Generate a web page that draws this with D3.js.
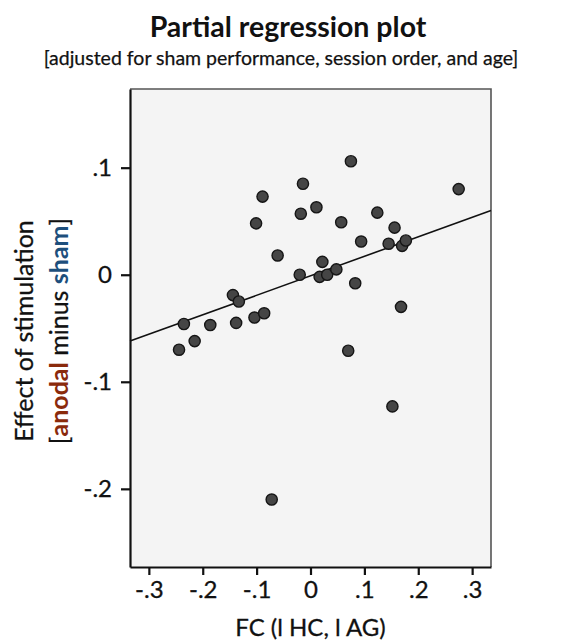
<!DOCTYPE html>
<html>
<head>
<meta charset="utf-8">
<script src="https://cdn.jsdelivr.net/npm/d3@7"></script>
<style>
  body { margin: 0; background: #fff; }
  text { font-family: Lato, "Open Sans", sans-serif; fill: #111; }
</style>
</head>
<body>
<div id="chart"></div>
<script>
// partial residuals
var fcValues = [-0.014, -0.089, -0.018, -0.101, -0.061, -0.020, -0.144, -0.133, -0.235, -0.186,
                -0.138, -0.104, -0.086, -0.215, -0.244, 0.075, 0.275, 0.011, 0.124, 0.057,
                0.156, 0.094, 0.145, 0.170, 0.177, 0.022, 0.017, 0.031, 0.048, 0.083,
                0.168, 0.070, 0.152, -0.072];
var effectValues = [0.085, 0.073, 0.057, 0.048, 0.018, 0.000, -0.019, -0.025, -0.046, -0.047,
                    -0.045, -0.040, -0.036, -0.062, -0.070, 0.106, 0.080, 0.063, 0.058, 0.049,
                    0.044, 0.031, 0.029, 0.027, 0.032, 0.012, -0.002, 0.000, 0.005, -0.008,
                    -0.030, -0.071, -0.123, -0.210];

// fitted line end points
var fitX = [-0.335, 0.335];
var fitY = [-0.062, 0.060];

var xTicks = [-0.3, -0.2, -0.1, 0, 0.1, 0.2, 0.3];
var xTickLabels = ["-.3", "-.2", "-.1", "0", ".1", ".2", ".3"];
var yTicks = [0.1, 0, -0.1, -0.2];
var yTickLabels = [".1", "0", "-.1", "-.2"];

var totalWidth = 562, totalHeight = 642;
var margin = {left: 130, right: 71, top: 89, bottom: 75};
var width = totalWidth - margin.left - margin.right;
var height = totalHeight - margin.top - margin.bottom;

var svg = d3.select("#chart").append("svg")
  .attr("width", totalWidth)
  .attr("height", totalHeight);

var xScale = d3.scaleLinear().domain([-0.335, 0.335]).range([0, width]);
var yScale = d3.scaleLinear().domain([-0.273, 0.1735]).range([height, 0]);

var g = svg.append("g")
  .attr("transform", "translate(" + margin.left + "," + margin.top + ")");

g.append("rect")
  .attr("width", width)
  .attr("height", height)
  .attr("fill", "#f4f4f4");

// top and right frame
g.append("path")
  .attr("d", "M0,0H" + width + "V" + height)
  .attr("fill", "none")
  .attr("stroke", "#555")
  .attr("stroke-width", 1.6);

var xAxis = d3.axisBottom(xScale).tickValues(xTicks)
  .tickFormat(function(d, i) { return xTickLabels[i]; })
  .tickSize(8).tickSizeOuter(0).tickPadding(6);
var yAxis = d3.axisLeft(yScale).tickValues(yTicks)
  .tickFormat(function(d, i) { return yTickLabels[i]; })
  .tickSize(9).tickSizeOuter(0).tickPadding(9);

var gx = g.append("g")
  .attr("transform", "translate(0," + height + ")")
  .call(xAxis);
var gy = g.append("g").call(yAxis);

[gx, gy].forEach(function(ax) {
  ax.select(".domain").attr("stroke", "#111").attr("stroke-width", 2.2);
  ax.selectAll(".tick line").attr("stroke", "#111").attr("stroke-width", 2.2);
  ax.selectAll(".tick text")
    .style("font-family", "Lato, sans-serif")
    .style("font-size", "24px")
    .attr("fill", "#111")
    .attr("stroke", "#111").attr("stroke-width", 0.3);
});

// regression line
var line = d3.line()
  .x(function(d) { return xScale(d[0]); })
  .y(function(d) { return yScale(d[1]); });
g.append("path")
  .datum(d3.zip(fitX, fitY))
  .attr("d", line)
  .attr("fill", "none")
  .attr("stroke", "#111")
  .attr("stroke-width", 1.6);

g.selectAll(".dot")
  .data(d3.zip(fcValues, effectValues))
  .enter().append("circle")
  .attr("class", "dot")
  .attr("cx", function(d) { return xScale(d[0]); })
  .attr("cy", function(d) { return yScale(d[1]); })
  .attr("r", 5.6)
  .attr("fill", "#454545")
  .attr("stroke", "#151515")
  .attr("stroke-width", 1.4);

// titles
svg.append("text")
  .attr("x", 288).attr("y", 37)
  .attr("text-anchor", "middle")
  .style("font-size", "28.5px").style("font-weight", "bold")
  .text("Partial regression plot");

svg.append("text")
  .attr("x", 281).attr("y", 65)
  .attr("text-anchor", "middle")
  .style("font-size", "19.5px")
  .attr("stroke", "#111").attr("stroke-width", 0.25)
  .text("[adjusted for sham performance, session order, and age]");

svg.append("text")
  .attr("x", margin.left + width / 2).attr("y", 636)
  .attr("text-anchor", "middle")
  .style("font-size", "24px")
  .attr("stroke", "#111").attr("stroke-width", 0.3)
  .text("FC (l HC, l AG)");

var ylab = svg.append("text")
  .attr("transform", "translate(33,331) rotate(-90)")
  .attr("text-anchor", "middle")
  .style("font-size", "25px");
ylab.append("tspan").attr("x", 0).attr("y", 0)
  .attr("stroke", "#111").attr("stroke-width", 0.3)
  .text("Effect of stimulation");
var l2 = ylab.append("tspan").attr("x", 0).attr("y", 35);
l2.append("tspan").attr("stroke", "#111").attr("stroke-width", 0.3).text("[");
l2.append("tspan").style("font-weight", "bold").attr("fill", "#8a2a0c").text("anodal");
l2.append("tspan").attr("stroke", "#111").attr("stroke-width", 0.3).text(" minus ");
l2.append("tspan").style("font-weight", "bold").attr("fill", "#1d4f7c").text("sham");
ylab.append("tspan").attr("stroke", "#111").attr("stroke-width", 0.3).text("]");
</script>
</body>
</html>
